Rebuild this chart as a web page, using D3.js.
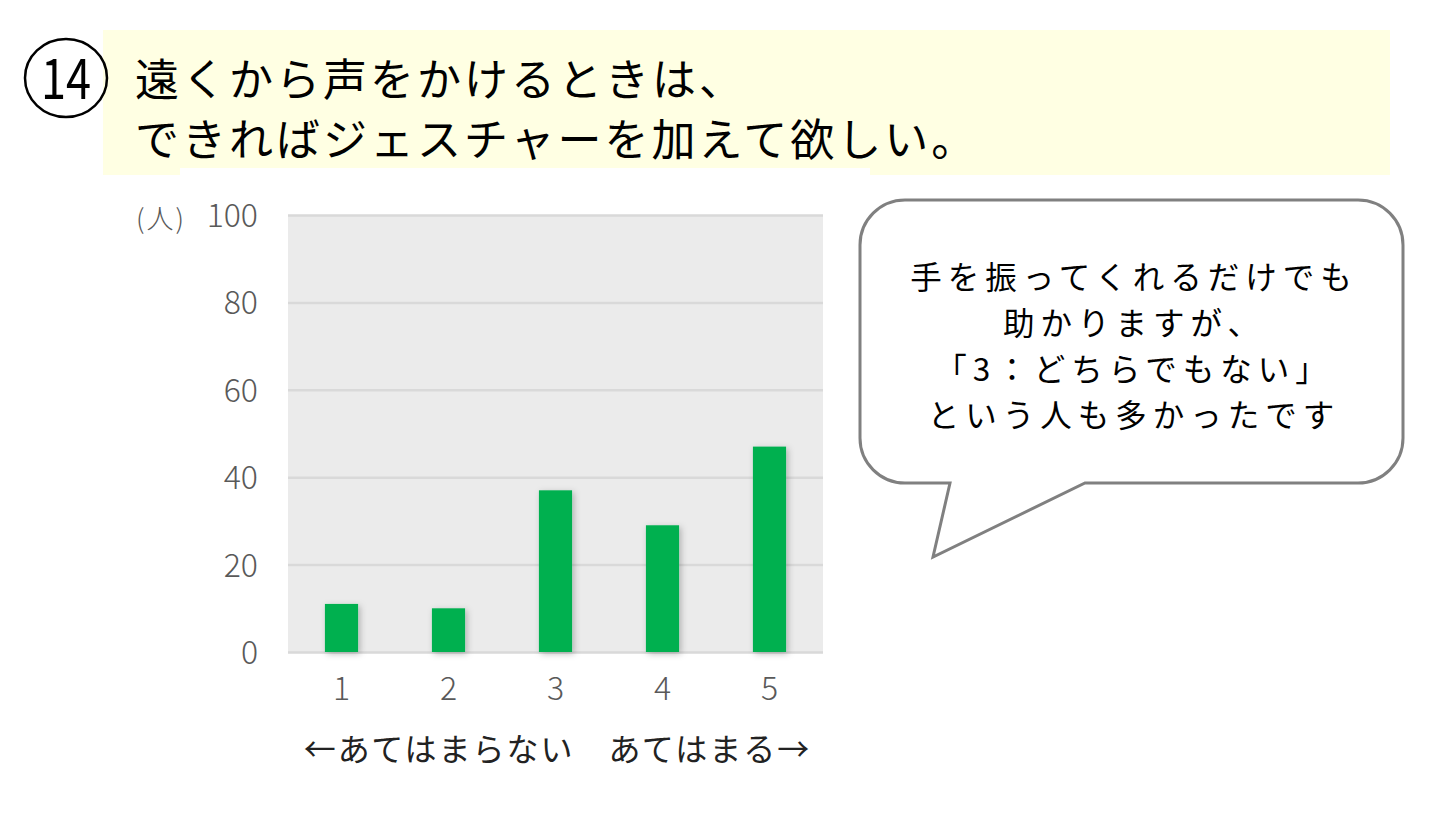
<!DOCTYPE html>
<html>
<head>
<meta charset="utf-8">
<script src="https://cdn.jsdelivr.net/npm/d3@7"></script>
<style>
  html, body { margin: 0; padding: 0; background: #fff; }
  svg { display: block; }
</style>
</head>
<body>
<script>
// chart data
const categories = ['1', '2', '3', '4', '5'];
const counts = [11, 10, 37, 29, 47];
const yTicks = [0, 20, 40, 60, 80, 100];
const titleLines = ['遠くから声をかけるときは、', 'できればジェスチャーを加えて欲しい。'];
const bubbleLines = ['手を振ってくれるだけでも', '助かりますが、', '「3：どちらでもない」', 'という人も多かったです'];
const scaleNote = '←あてはまらない　あてはまる→';

const W = 1440, H = 839;
const jp = '"Noto Sans CJK JP", "Noto Sans", sans-serif';

const svg = d3.select('body').append('svg')
    .attr('width', W).attr('height', H);

// Set the shadow for the bars
const defs = svg.append('defs');
const shadow = defs.append('filter').attr('id', 'shadow')
    .attr('x', '-30%').attr('y', '-10%').attr('width', '160%').attr('height', '130%');
shadow.append('feDropShadow')
    .attr('dx', 2).attr('dy', 2).attr('stdDeviation', 3)
    .attr('flood-color', '#000').attr('flood-opacity', 0.25);

// title band
svg.append('rect')
    .attr('x', 103).attr('y', 30).attr('width', 1287).attr('height', 145)
    .attr('fill', '#ffffe3');
svg.append('rect')
    .attr('x', 180).attr('y', 168).attr('width', 690).attr('height', 10)
    .attr('fill', '#fff');

svg.append('ellipse')
    .attr('cx', 66).attr('cy', 78).attr('rx', 41).attr('ry', 39)
    .attr('fill', 'none').attr('stroke', '#000').attr('stroke-width', 2.5);
svg.append('text')
    .attr('x', 66).attr('y', 99)
    .attr('text-anchor', 'middle')
    .attr('textLength', 50).attr('lengthAdjust', 'spacingAndGlyphs')
    .style('font-family', jp).style('font-size', '56px')
    .text('14');

svg.selectAll('text.title')
    .data(titleLines)
    .enter()
    .append('text')
    .attr('class', 'title')
    .attr('x', 135)
    .attr('y', (d, i) => 96 + i * 60)
    .style('font-family', jp).style('font-size', '44px')
    .style('letter-spacing', '3px').style('fill', '#000')
    .text(d => d);

// plot area
const margin = {left: 288, right: 823, top: 215, bottom: 652};

const x = d3.scaleBand()
    .domain(categories)
    .range([margin.left, margin.right])
    .paddingInner(0.69)
    .paddingOuter(0.345);

const y = d3.scaleLinear()
    .domain([0, 100])
    .range([margin.bottom, margin.top]);

svg.append('rect')
    .attr('x', margin.left).attr('y', margin.top)
    .attr('width', margin.right - margin.left)
    .attr('height', margin.bottom - margin.top)
    .attr('fill', '#ebebeb');

const yAxis = svg.append('g')
    .attr('transform', `translate(${margin.left}, 0)`)
    .call(d3.axisLeft(y).tickValues(yTicks)
        .tickSize(-(margin.right - margin.left)).tickPadding(30));
yAxis.select('.domain').remove();
yAxis.selectAll('line').attr('stroke', '#d9d9d9').attr('stroke-width', 2.5);
yAxis.selectAll('text')
    .attr('dy', '0.36em')
    .style('font-family', jp).style('font-size', '32px')
    .style('font-weight', 300).style('fill', '#595959');

svg.append('text')
    .attr('x', 136).attr('y', 229)
    .style('font-family', jp).style('font-size', '27px')
    .style('letter-spacing', '2px')
    .style('font-weight', 300).style('fill', '#595959')
    .text('(人)');

svg.selectAll('rect.bar')
    .data(counts)
    .enter()
    .append('rect')
    .attr('class', 'bar')
    .attr('x', (d, i) => x(categories[i]))
    .attr('y', d => y(d))
    .attr('width', x.bandwidth())
    .attr('height', d => y(0) - y(d))
    .attr('fill', '#00b050')
    .attr('filter', 'url(#shadow)');

const xAxis = svg.append('g')
    .attr('transform', `translate(0, ${margin.bottom})`)
    .call(d3.axisBottom(x).tickSize(0).tickPadding(25));
xAxis.select('.domain').remove();
xAxis.selectAll('text')
    .attr('dy', '0.71em')
    .style('font-family', jp).style('font-size', '32px')
    .style('font-weight', 300).style('fill', '#595959');

svg.append('text')
    .attr('x', (margin.left + margin.right) / 2 + 2)
    .attr('y', 761)
    .attr('text-anchor', 'middle')
    .style('font-family', jp).style('font-size', '32px')
    .style('letter-spacing', '2px').style('fill', '#222')
    .text(scaleNote);

// speech bubble
const bx0 = 860, bx1 = 1403, by0 = 200, by1 = 483, r = 45;
const bubble = d3.path();
bubble.moveTo(bx0 + r, by0);
bubble.lineTo(bx1 - r, by0);
bubble.arcTo(bx1, by0, bx1, by0 + r, r);
bubble.lineTo(bx1, by1 - r);
bubble.arcTo(bx1, by1, bx1 - r, by1, r);
bubble.lineTo(1085, by1);
bubble.lineTo(933, 557);
bubble.lineTo(950, by1);
bubble.lineTo(bx0 + r, by1);
bubble.arcTo(bx0, by1, bx0, by1 - r, r);
bubble.lineTo(bx0, by0 + r);
bubble.arcTo(bx0, by0, bx0 + r, by0, r);
bubble.closePath();

svg.append('path')
    .attr('d', bubble.toString())
    .attr('fill', '#fff').attr('stroke', '#808080').attr('stroke-width', 3)
    .attr('stroke-linejoin', 'miter');

svg.selectAll('text.bubble')
    .data(bubbleLines)
    .enter()
    .append('text')
    .attr('class', 'bubble')
    .attr('x', 1134)
    .attr('y', (d, i) => 289 + i * 46)
    .attr('text-anchor', 'middle')
    .style('font-family', jp).style('font-size', '31.5px')
    .style('letter-spacing', '6px').style('fill', '#000')
    .text(d => d);
</script>
</body>
</html>
